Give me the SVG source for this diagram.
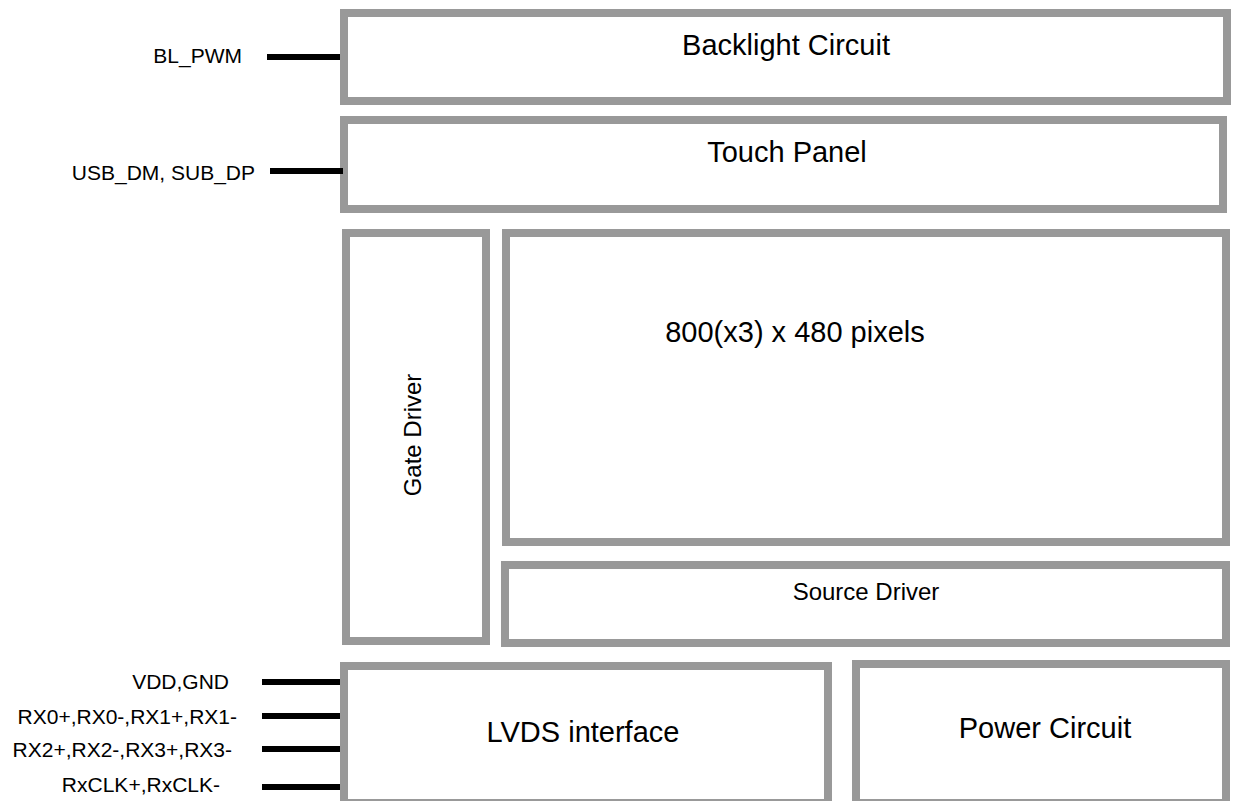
<svg xmlns="http://www.w3.org/2000/svg" width="1233" height="801" viewBox="0 0 1233 801">
<style>
.box{fill:#fff;stroke:#999;stroke-width:8}
.t{font-family:"Liberation Sans",Arial,sans-serif;fill:#000}
.title{font-size:29px;text-anchor:middle}
.mid{font-size:24px;text-anchor:middle}
.lbl{font-size:21px;text-anchor:end}
.wire{stroke:#000;stroke-width:6}
</style>
<rect width="1233" height="801" fill="#fff"/>
<g id="backlight"><rect class="box" x="344" y="13" width="883" height="88"/><text class="t title" x="786" y="55">Backlight Circuit</text></g>
<g id="touch"><rect class="box" x="344" y="120" width="879" height="89"/><text class="t title" x="787" y="162">Touch Panel</text></g>
<g id="gate"><rect class="box" x="346" y="233" width="140" height="408"/><text class="t mid" transform="translate(421,435) rotate(-90)">Gate Driver</text></g>
<g id="pixels"><rect class="box" x="506" y="233" width="720" height="309"/><text class="t title" x="795" y="342">800(x3) x 480 pixels</text></g>
<g id="source"><rect class="box" x="505" y="565" width="721" height="78"/><text class="t mid" x="866" y="600">Source Driver</text></g>
<g id="lvds"><rect class="box" x="344" y="666" width="484" height="137"/><text class="t title" x="583" y="742">LVDS interface</text></g>
<g id="power"><rect class="box" x="856" y="664" width="370" height="139"/><text class="t title" x="1045" y="738">Power Circuit</text></g>
<g id="connectors">
<line class="wire" x1="267" y1="57" x2="340" y2="57"/>
<line class="wire" x1="270" y1="171" x2="343" y2="171"/>
<line class="wire" x1="262" y1="682" x2="340" y2="682"/>
<line class="wire" x1="262" y1="716" x2="340" y2="716"/>
<line class="wire" x1="262" y1="749" x2="340" y2="749"/>
<line class="wire" x1="262" y1="787" x2="340" y2="787"/>
</g>
<g id="labels">
<text class="t lbl" x="242" y="63">BL_PWM</text>
<text class="t lbl" x="255" y="180">USB_DM, SUB_DP</text>
<text class="t lbl" x="229" y="689">VDD,GND</text>
<text class="t lbl" x="237" y="724">RX0+,RX0-,RX1+,RX1-</text>
<text class="t lbl" x="232" y="757">RX2+,RX2-,RX3+,RX3-</text>
<text class="t lbl" x="220" y="792">RxCLK+,RxCLK-</text>
</g>
</svg>
